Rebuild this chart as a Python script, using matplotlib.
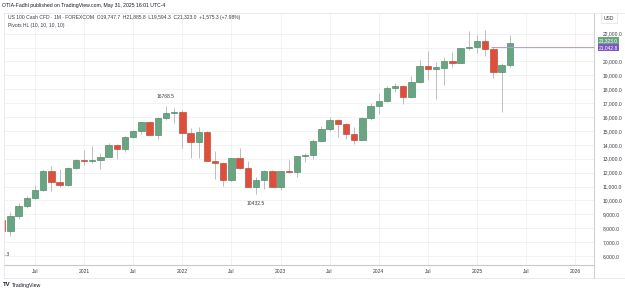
import matplotlib

matplotlib.use("Agg")
import matplotlib.pyplot as plt
import matplotlib.transforms as mtransforms
from matplotlib.lines import Line2D
import numpy as np

# monthly candles, Mar 2020 .. May 2025 (US 100 cash CFD)
months = [
    "2020-03", "2020-04", "2020-05", "2020-06", "2020-07", "2020-08", "2020-09", "2020-10",
    "2020-11", "2020-12", "2021-01", "2021-02", "2021-03", "2021-04", "2021-05", "2021-06",
    "2021-07", "2021-08", "2021-09", "2021-10", "2021-11", "2021-12", "2022-01", "2022-02",
    "2022-03", "2022-04", "2022-05", "2022-06", "2022-07", "2022-08", "2022-09", "2022-10",
    "2022-11", "2022-12", "2023-01", "2023-02", "2023-03", "2023-04", "2023-05", "2023-06",
    "2023-07", "2023-08", "2023-09", "2023-10", "2023-11", "2023-12", "2024-01", "2024-02",
    "2024-03", "2024-04", "2024-05", "2024-06", "2024-07", "2024-08", "2024-09", "2024-10",
    "2024-11", "2024-12", "2025-01", "2025-02", "2025-03", "2025-04", "2025-05",
]
opens = [
    8590, 7800, 8880, 9600, 10190, 10750, 12115, 11350,
    11090, 12300, 12900, 12830, 12930, 13140, 13990, 13680,
    14580, 15000, 15620, 14700, 15910, 16270, 16340, 14880,
    14220, 14900, 12860, 12670, 11470, 13030, 12310, 10990,
    11470, 12120, 10990, 12120, 12020, 13190, 13270, 14270,
    15140, 15760, 15500, 14780, 14350, 15910, 16810, 17170,
    18060, 18250, 17410, 18490, 19700, 19430, 19560, 20030,
    19900, 20940, 21060, 21470, 20870, 19210, 19747.7,
]
highs = [
    9000, 9190, 9810, 10320, 11110, 12190, 12470, 12260,
    12380, 12960, 13630, 13940, 13390, 14100, 14040, 14630,
    15060, 15660, 15710, 15980, 16768.5, 16620, 16500, 15230,
    15300, 14990, 13580, 12790, 13070, 13750, 12850, 11700,
    12190, 12190, 12140, 12900, 13220, 13390, 14450, 15370,
    15980, 15830, 15590, 15300, 15980, 16990, 17700, 18250,
    18420, 18300, 18970, 20100, 20770, 19990, 20340, 20660,
    21000, 22190, 21900, 22260, 21060, 19860, 21885.8,
]
lows = [
    6771.3, 7440, 8660, 9460, 10100, 10700, 10700, 10990,
    11040, 12240, 12550, 12690, 12240, 13100, 12980, 13500,
    14480, 14780, 14700, 14420, 15800, 15550, 13750, 13070,
    13030, 12830, 11520, 11040, 11420, 12240, 10940, 10432.5,
    10800, 10940, 10750, 11980, 11700, 12780, 12980, 14220,
    15020, 14580, 14420, 14060, 14350, 15780, 16210, 17050,
    17820, 16940, 17340, 18420, 18660, 17300, 18300, 19620,
    19880, 20820, 20580, 20420, 18830, 16340, 19594.3,
]
closes = [
    7800, 8880, 9600, 10190, 10750, 12115, 11350, 11090,
    12300, 12900, 12830, 12930, 13140, 13990, 13680, 14580,
    15000, 15620, 14700, 15910, 16270, 16340, 14880, 14220,
    14900, 12860, 12670, 11470, 13030, 12310, 10990, 11470,
    12120, 10990, 12120, 12020, 13190, 13270, 14270, 15140,
    15760, 15500, 14780, 14350, 15910, 16810, 17170, 18060,
    18250, 17410, 18490, 19670, 19430, 19610, 20030, 19900,
    20940, 21060, 21470, 20870, 19210, 19747.7, 21323.0,
]

# pivot high/low labels
pivot_months = ["2020-03", "2021-11", "2022-10"]
pivot_values = [6771.3, 16768.5, 10432.5]
pivot_kinds = ["low", "high", "low"]

last_price = 21323.0
pivot_line = 21042.8
pivot_line_from = "2025-03"

price_ticks = list(range(6000, 23000, 1000))
hidden_ticks = [21000]  # sits under the price tags
time_labels = ["Jul", "2021", "Jul", "2022", "Jul", "2023", "Jul", "2024",
               "Jul", "2025", "Jul", "2026"]

header = "OTIA-Fadhl published on TradingView.com, May 31, 2025 16:01 UTC-4"
legend1 = ("US 100 Cash CFD · 1M · FOREXCOM  O19,747.7  H21,885.8  L19,594.3  "
           "C21,323.0  +1,575.3 (+7.98%)")
legend2 = "Pivots HL (10, 10, 10, 10)"

UP, UP_EDGE = "#6aa583", "#3f7d59"
DOWN, DOWN_EDGE = "#dd4f3b", "#b53a29"
WICK = "#bdbdbd"
GRID = "#f0f0f0"
TXT = "#3a3d45"

plt.rcParams["font.family"] = ["Liberation Sans", "DejaVu Sans"]


def month_index(m):
    # months after Jul 2020
    y, mo = map(int, m.split("-"))
    return (y - 2020) * 12 + (mo - 7)


W, H = 625, 293
fig = plt.figure(figsize=(W / 100, H / 100), dpi=100)
ax = fig.add_axes([4 / W, (H - 265) / H, (594 - 4) / W, (265 - 13) / H])

x = np.array([month_index(m) for m in months], dtype=float)
o, h, l, c = map(np.array, (opens, highs, lows, closes))
up = c >= o
ax.vlines(x, l, h, color=WICK, lw=0.7, zorder=2)
body = np.maximum(np.abs(c - o), 60)
ax.bar(x, body, bottom=np.minimum(o, c), width=0.78,
       color=np.where(up, UP, DOWN), edgecolor=np.where(up, UP_EDGE, DOWN_EDGE),
       linewidth=0.4, zorder=3)

for m, v, kind in zip(pivot_months, pivot_values, pivot_kinds):
    off = 5 if kind == "high" else -5
    ax.annotate(f"{v}", (month_index(m), v), xytext=(0, off), textcoords="offset points",
                ha="center", va="bottom" if kind == "high" else "top",
                fontsize=3.6, color=TXT, annotation_clip=False, clip_on=True)

ax.hlines(pivot_line, month_index(pivot_line_from) - 0.3, 80, color="#b39ddb", lw=0.7, zorder=4)

ax.set_xlim(-3.79, 68.3)
ax.set_ylim(5353, 23482)
ax.set_yticks(price_ticks)
ax.set_yticklabels(["" if v in hidden_ticks else f"{v:,.1f}" for v in price_ticks])
ax.yaxis.tick_right()
ax.set_xticks(np.arange(0, 67, 6))
ax.set_xticklabels(time_labels)
ax.tick_params(axis="both", length=0, labelsize=3.6, labelcolor=TXT)
ax.tick_params(axis="y", pad=6)
ax.tick_params(axis="x", pad=3)
ax.grid(True, color=GRID, lw=0.6, zorder=0)
ax.set_axisbelow(True)
for side in ("top", "left"):
    ax.spines[side].set_visible(False)
ax.spines["bottom"].set_color("#c9c9c9")
ax.spines["right"].set_color("#d0d0d0")
ax.spines["bottom"].set_linewidth(0.8)
ax.spines["right"].set_linewidth(0.8)

# price tags on the right scale, stacked like the TradingView scale does
tr = mtransforms.blended_transform_factory(ax.transAxes, ax.transData)
for val, col, dy in ((last_price, UP, 1.6), (pivot_line, "#7e57c2", -0.6)):
    ax.annotate(f"{val:,.1f}", (1.0, val), xycoords=tr, xytext=(3.5, dy),
                textcoords="offset points", ha="left", va="center", fontsize=3.5,
                color="white", annotation_clip=False, zorder=6,
                bbox=dict(boxstyle="square,pad=0.2", fc=col, ec="none"))

# frame lines and texts outside the axes
fig.add_artist(Line2D([4 / W, 1], [1 - 13 / H] * 2, color="#e6e6e6", lw=0.6))
fig.add_artist(Line2D([4 / W, 4 / W], [1 - 13 / H, 1 - 278 / H], color="#e6e6e6", lw=0.6))
fig.add_artist(Line2D([4 / W, 1], [1 - 278 / H] * 2, color="#e6e6e6", lw=0.6))
fig.add_artist(Line2D([594 / W] * 2, [1 - 265 / H, 1 - 278 / H], color="#d0d0d0", lw=0.8))
fig.text(2 / W, 1 - 6 / H, header, fontsize=3.7, color="#131722", va="center")
fig.text(8 / W, 1 - 18 / H, legend1, fontsize=3.6, color=TXT, va="center")
fig.text(8 / W, 1 - 25 / H, legend2, fontsize=3.6, color=TXT, va="center")
fig.text(609 / W, 1 - 18 / H, "USD", fontsize=3.6, color=TXT, ha="center", va="center",
         bbox=dict(boxstyle="square,pad=0.5", fc="white", ec="#e0e0e0", lw=0.5))
fig.text(3 / W, 1 - 285 / H, "TV", fontsize=4.2, color="#131722", va="center", weight="bold")
fig.text(12 / W, 1 - 285 / H, "TradingView", fontsize=3.8, color="#131722", va="center")

fig.savefig("out.png", dpi=100, facecolor="white")
